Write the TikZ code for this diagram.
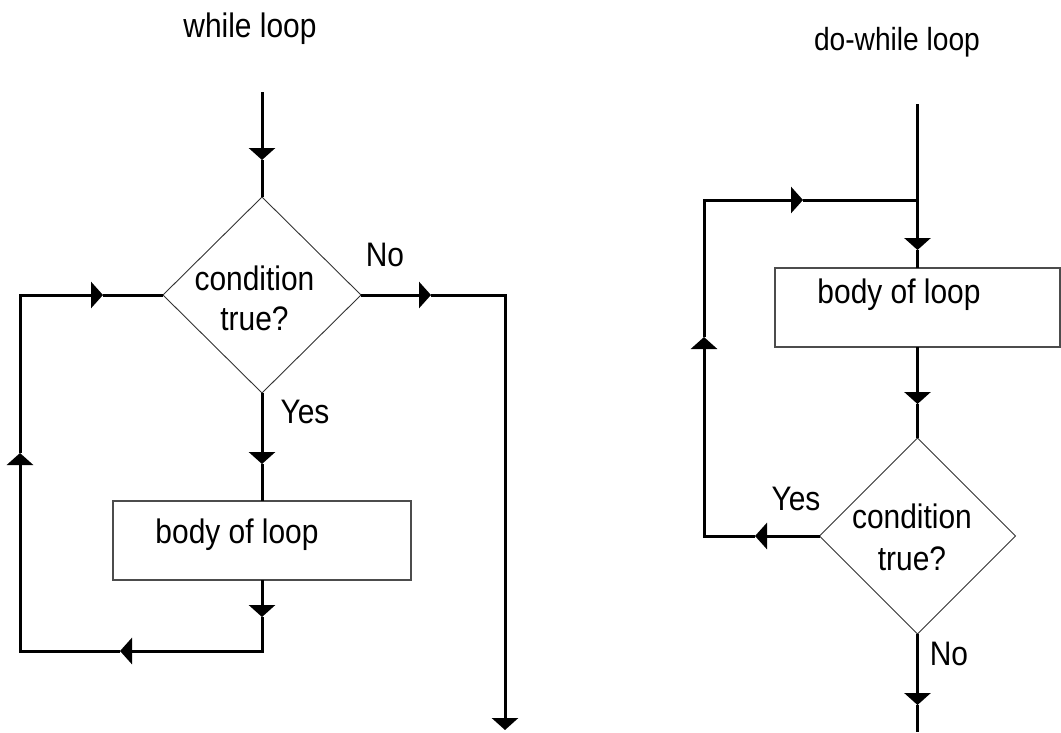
\documentclass[tikz,border=0pt]{standalone}
\usepackage{fontspec}
\setmainfont{Liberation Sans}[FakeStretch=0.88]
\usetikzlibrary{shapes.geometric,arrows.meta}
\begin{document}
\begin{tikzpicture}[x=1pt,y=-1pt,
  flow/.style={line width=3pt},
  tip/.style={-{Triangle[length=12pt,width=26pt]}},
  cond/.style={diamond, draw=black!80, line width=0.9pt, inner sep=0pt, outer sep=0pt,
               minimum width=198pt, minimum height=196pt},
  bodybox/.style={rectangle, draw=black!70, line width=1.2pt, inner sep=0pt, outer sep=0pt},
  lbl/.style={font=\fontsize{34}{40}\selectfont, anchor=base, inner sep=0pt},
]
\useasboundingbox (0,0) rectangle (1061,732);

% ---------- while loop ----------
\coordinate (s1) at (262,92);
\coordinate (a1) at (262,160);
\node[cond] (d1) at (262,295) {};
\coordinate (a2) at (262,464);
\node[bodybox, minimum width=298pt, minimum height=79pt] (b1) at (262,540.5) {};
\coordinate (a3) at (262,617);
\coordinate (c1) at (262,651);
\coordinate (a4) at (120,651);
\coordinate (c2) at (20,651);
\coordinate (a5) at (20,453);
\coordinate (c3) at (20,295);
\coordinate (a6) at (103,295);
\coordinate (a7) at (431,295);
\coordinate (c4) at (505,295);
\coordinate (e1) at (505,730);

\draw[flow,tip] (s1) -- (a1);
\draw[flow] (a1) -- (d1.north);
\draw[flow,tip] (d1.south) -- (a2);
\draw[flow] (a2) -- (b1.north);
\draw[flow,tip] (b1.south) -- (a3);
\draw[flow,tip] (a3) -- (c1) -- (a4);
\draw[flow,tip] (a4) -- (c2) -- (a5);
\draw[flow,tip] (a5) -- (c3) -- (a6);
\draw[flow] (a6) -- (d1.west);
\draw[flow,tip] (d1.east) -- (a7);
\draw[flow,tip] (a7) -- (c4) -- (e1);

\node[lbl] (t1) at (250,37) {while loop};
\node[lbl] (q1a) at (254.5,290) {condition};
\node[lbl] (q1b) at (254.5,330) {true?};
\node[lbl] (n1) at (385,266) {No};
\node[lbl] (y1) at (305,423) {Yes};
\node[lbl] (bt1) at (237,543) {body of loop};

% ---------- do-while loop ----------
\coordinate (s2) at (917.5,104);
\coordinate (j) at (917.5,200);
\coordinate (a8) at (917.5,250);
\node[bodybox, minimum width=285pt, minimum height=79pt] (b2) at (917.5,307.5) {};
\coordinate (a9) at (917.5,404);
\node[cond, minimum width=196pt] (d2) at (917.5,536) {};
\coordinate (a10) at (917.5,705);
\coordinate (e2) at (917.5,732);
\coordinate (a11) at (755,536);
\coordinate (c5) at (704,536);
\coordinate (a12) at (704,337);
\coordinate (c6) at (704,200);
\coordinate (a13) at (803,200);

\draw[flow] (s2) -- (j);
\draw[flow,tip] (j) -- (a8);
\draw[flow] (a8) -- (b2.north);
\draw[flow,tip] (b2.south) -- (a9);
\draw[flow] (a9) -- (d2.north);
\draw[flow,tip] (d2.west) -- (a11);
\draw[flow,tip] (a11) -- (c5) -- (a12);
\draw[flow,tip] (a12) -- (c6) -- (a13);
\draw[flow] (a13) -- (j);
\draw[flow,tip] (d2.south) -- (a10);
\draw[flow] (a10) -- (e2);

\node[lbl, font=\fontsize{32}{38}\selectfont] (t2) at (897,50) {do-while loop};
\node[lbl] (bt2) at (899,303) {body of loop};
\node[lbl] (q2a) at (912,528) {condition};
\node[lbl] (q2b) at (912,570) {true?};
\node[lbl] (y2) at (796,510) {Yes};
\node[lbl] (n2) at (949,665) {No};
\end{tikzpicture}
\end{document}
